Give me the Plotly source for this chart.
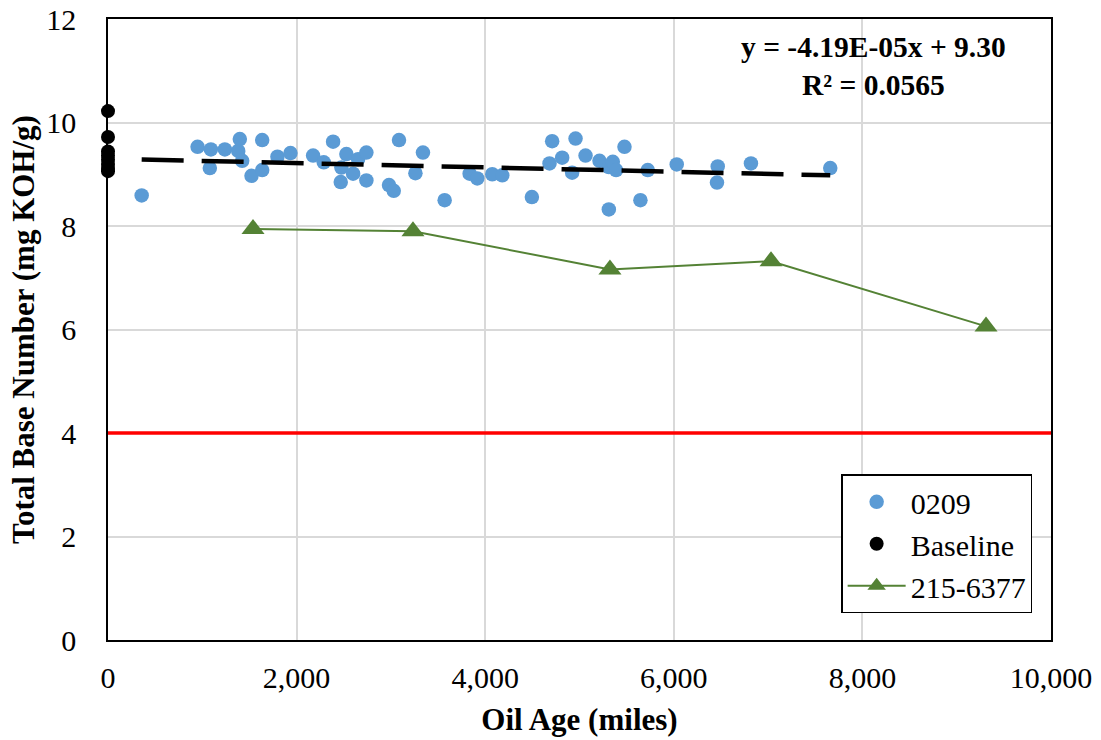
import plotly.graph_objects as go

# Series 0209: oil age (miles) vs total base number
age_0209 = [357, 950, 1091, 1080, 1239, 1381, 1398, 1423, 1522, 1635, 1635, 1797,
            1935, 2175, 2288, 2387, 2468, 2475, 2528, 2599, 2652, 2740, 2740, 2980,
            3030, 3086, 3260, 3340, 3570, 3835, 3916, 4075, 4181, 4495, 4682, 4710,
            4816, 4922, 4958, 5064, 5212, 5311, 5311, 5353, 5388, 5477, 5646, 5724,
            6031, 6458, 6466, 6818, 7659]
tbn_0209 = [8.59, 9.53, 9.48, 9.12, 9.48, 9.45, 9.68, 9.26, 8.97, 9.66, 9.08, 9.34,
            9.41, 9.36, 9.23, 9.63, 8.85, 9.13, 9.39, 9.01, 9.29, 9.42, 8.88, 8.79,
            8.68, 9.66, 9.02, 9.42, 8.50, 9.01, 8.92, 9.00, 8.98, 8.56, 9.21, 9.64,
            9.32, 9.03, 9.69, 9.36, 9.26, 9.14, 8.32, 9.24, 9.08, 9.53, 8.50, 9.08,
            9.19, 8.84, 9.15, 9.21, 9.12]

# Baseline samples (new oil, 0 miles)
age_base = [0, 0, 0, 0, 0, 0, 0, 0]
tbn_base = [10.22, 9.72, 9.44, 9.36, 9.28, 9.20, 9.12, 9.06]

# Unit 215-6377
age_215 = [1538, 3234, 5323, 7031, 9311]
tbn_215 = [7.94, 7.90, 7.16, 7.32, 6.06]

# Linear trend of series 0209
slope = -4.19e-05
intercept = 9.30
r_squared = 0.0565
trend_x = [min(age_0209), max(age_0209)]
trend_y = [slope * v + intercept for v in trend_x]

# Condemning limit
limit_tbn = 4
x_range = [0, 10000]
y_range = [0, 12]
x_ticks = [0, 2000, 4000, 6000, 8000, 10000]
y_ticks = [0, 2, 4, 6, 8, 10, 12]

FONT = "Liberation Serif"

fig = go.Figure()

fig.add_trace(go.Scatter(
    x=x_range, y=[limit_tbn, limit_tbn], mode="lines",
    line=dict(color="#FF0000", width=3.5), showlegend=False, hoverinfo="skip"))

fig.add_trace(go.Scatter(
    x=age_0209, y=tbn_0209, mode="markers", name="0209",
    marker=dict(color="#5B9BD5", size=14.5, line=dict(width=0))))

fig.add_trace(go.Scatter(
    x=age_base, y=tbn_base, mode="markers", name="Baseline",
    marker=dict(color="#000000", size=14, line=dict(width=0)), cliponaxis=False))

fig.add_trace(go.Scatter(
    x=age_215, y=tbn_215, mode="lines+markers", name="215-6377",
    line=dict(color="#548235", width=2),
    marker=dict(symbol="triangle-up", color="#548235", size=20, line=dict(width=0))))

fig.add_trace(go.Scatter(
    x=trend_x, y=trend_y, mode="lines",
    line=dict(color="#000000", width=4.5, dash="42px,18px"),
    showlegend=False, hoverinfo="skip"))

fig.add_annotation(
    xref="paper", yref="paper", x=0.812, y=0.924, xanchor="center", yanchor="middle",
    text=f"<b>y = {slope:.2E}x + {intercept:.2f}<br>R² = {r_squared}</b>",
    showarrow=False, align="center",
    font=dict(family=FONT, size=29.5, color="#000000"))

axis_common = dict(
    showline=True, linecolor="#000000", linewidth=1.5, mirror=True,
    showgrid=True, gridcolor="#D9D9D9", gridwidth=1.5,
    zeroline=False, ticks="", automargin=False,
    tickfont=dict(family=FONT, size=30, color="#000000"),
)

fig.update_xaxes(
    range=x_range, tickvals=x_ticks, tickformat=",d",
    title=dict(text="<b>Oil Age (miles)</b>", standoff=16,
               font=dict(family=FONT, size=31, color="#000000")),
    ticklabelstandoff=10,
    **axis_common)

fig.update_yaxes(
    range=y_range, tickvals=y_ticks,
    title=dict(text="<b>Total Base Number (mg KOH/g)</b>", standoff=2,
               font=dict(family=FONT, size=31, color="#000000")),
    ticklabelstandoff=24,
    **axis_common)

fig.update_layout(
    width=1101, height=740,
    margin=dict(l=108, r=50, t=19, b=100),
    paper_bgcolor="#FFFFFF", plot_bgcolor="#FFFFFF",
    font=dict(family=FONT, color="#000000"),
    legend=dict(
        x=0.980, y=0.043, xanchor="right", yanchor="bottom",
        bgcolor="#FFFFFF", bordercolor="#000000", borderwidth=1.5,
        font=dict(family=FONT, size=30, color="#000000"),
        tracegroupgap=0, itemsizing="trace", itemwidth=58),
    showlegend=True,
)

fig.write_html("out.html")
